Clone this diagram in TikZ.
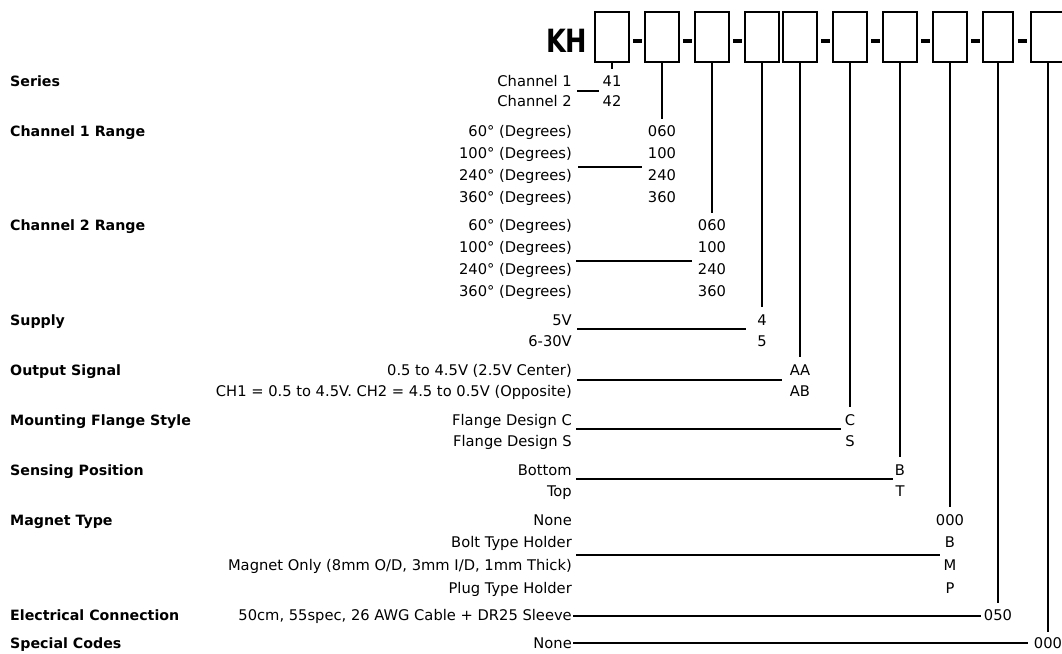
\documentclass[tikz,border=0pt]{standalone}
\usepackage{graphicx}
\usepackage{fontspec}
\setmainfont{DejaVu Sans}
\usetikzlibrary{calc}
\newcommand{\rowfont}{\fontsize{14.7}{17}\selectfont}
\tikzset{
    hdr/.style={font=\fontsize{14.2}{17}\selectfont\bfseries, anchor=base west, inner sep=0pt},
    desc/.style={font=\rowfont, anchor=base east, inner sep=0pt},
    code/.style={font=\rowfont, anchor=base, inner sep=0pt},
    slot/.style={draw, line width=2pt, minimum width=34pt, minimum height=50pt, inner sep=0pt},
    dashbar/.style={fill, minimum width=9pt, minimum height=4pt, inner sep=0pt, yshift=-3.5pt},
    lead/.style={line width=2pt},
}
\begin{document}
\begin{tikzpicture}[x=1pt, y=-1pt]
        \useasboundingbox (0,0) rectangle (1062,653);
        \clip (0,0) rectangle (1062,653);
        \node[anchor=base east, inner sep=0pt, font=\fontsize{32}{32}\selectfont\bfseries] (kh) at (587.5,52) {\scalebox{0.8}[1]{KH}};
        \node[slot] (b1) at (612,37) {};
        \node[slot] (b2) at (662,37) {};
        \node[slot] (b3) at (712,37) {};
        \node[slot] (b4) at (762,37) {};
        \node[slot] (b5) at (800,37) {};
        \node[slot] (b6) at (850,37) {};
        \node[slot] (b7) at (900,37) {};
        \node[slot] (b8) at (950,37) {};
        \node[slot, minimum width=30pt] (b9) at (998,37) {};
        \node[slot] (b10) at (1048,37) {};
        \node[dashbar] (m1) at ($(b1.east)!0.5!(b2.west)$) {};
        \node[dashbar] (m2) at ($(b2.east)!0.5!(b3.west)$) {};
        \node[dashbar] (m3) at ($(b3.east)!0.5!(b4.west)$) {};
        \node[dashbar] (m4) at ($(b5.east)!0.5!(b6.west)$) {};
        \node[dashbar] (m5) at ($(b6.east)!0.5!(b7.west)$) {};
        \node[dashbar] (m6) at ($(b7.east)!0.5!(b8.west)$) {};
        \node[dashbar] (m7) at ($(b8.east)!0.5!(b9.west)$) {};
        \node[dashbar] (m8) at ($(b9.east)!0.5!(b10.west)$) {};

        \node[hdr] (h-ser) at (10,86.7) {Series};
        \node[hdr] (h-ch1) at (10,136.7) {Channel 1 Range};
        \node[hdr] (h-ch2) at (10,230.7) {Channel 2 Range};
        \node[hdr] (h-sup) at (10,325) {Supply};
        \node[hdr] (h-out) at (10,375) {Output Signal};
        \node[hdr] (h-fla) at (10,425) {Mounting Flange Style};
        \node[hdr] (h-sen) at (10,475) {Sensing Position};
        \node[hdr] (h-mag) at (10,525) {Magnet Type};
        \node[hdr] (h-ele) at (10,620.7) {Electrical Connection};
        \node[hdr] (h-spc) at (10,648) {Special Codes};

        \node[desc] (d-ser1) at (572,86.7) {Channel 1};
        \node[desc] (d-ser2) at (572,106.7) {Channel 2};
        \node[desc] (d-ch1a) at (572,136.7) {60° (Degrees)};
        \node[desc] (d-ch1b) at (572,158.7) {100° (Degrees)};
        \node[desc] (d-ch1c) at (572,180.7) {240° (Degrees)};
        \node[desc] (d-ch1d) at (572,202.7) {360° (Degrees)};
        \node[desc] (d-ch2a) at (572,230.7) {60° (Degrees)};
        \node[desc] (d-ch2b) at (572,252.7) {100° (Degrees)};
        \node[desc] (d-ch2c) at (572,274.7) {240° (Degrees)};
        \node[desc] (d-ch2d) at (572,296.7) {360° (Degrees)};
        \node[desc] (d-sup1) at (572,325) {5V};
        \node[desc] (d-sup2) at (572,346.7) {6-30V};
        \node[desc] (d-out1) at (572,375) {0.5 to 4.5V (2.5V Center)};
        \node[desc] (d-out2) at (572,396.7) {CH1 = 0.5 to 4.5V. CH2 = 4.5 to 0.5V (Opposite)};
        \node[desc] (d-fla1) at (572,425) {Flange Design C};
        \node[desc] (d-fla2) at (572,446.7) {Flange Design S};
        \node[desc] (d-sen1) at (572,475) {Bottom};
        \node[desc] (d-sen2) at (572,496.7) {Top};
        \node[desc] (d-mag1) at (572,525) {None};
        \node[desc] (d-mag2) at (572,547.5) {Bolt Type Holder};
        \node[desc] (d-mag3) at (572,570.5) {Magnet Only (8mm O/D, 3mm I/D, 1mm Thick)};
        \node[desc] (d-mag4) at (572,593) {Plug Type Holder};
        \node[desc] (d-ele) at (572,620.7) {50cm, 55spec, 26 AWG Cable + DR25 Sleeve};
        \node[desc] (d-spc) at (572,648) {None};

        \node[code] (v-ser1) at (b1 |- 0,86.7) {41};
        \node[code] (v-ser2) at (b1 |- 0,106.7) {42};
        \node[code] (v-ch1a) at (b2 |- 0,136.7) {060};
        \node[code] (v-ch1b) at (b2 |- 0,158.7) {100};
        \node[code] (v-ch1c) at (b2 |- 0,180.7) {240};
        \node[code] (v-ch1d) at (b2 |- 0,202.7) {360};
        \node[code] (v-ch2a) at (b3 |- 0,230.7) {060};
        \node[code] (v-ch2b) at (b3 |- 0,252.7) {100};
        \node[code] (v-ch2c) at (b3 |- 0,274.7) {240};
        \node[code] (v-ch2d) at (b3 |- 0,296.7) {360};
        \node[code] (v-sup1) at (b4 |- 0,325) {4};
        \node[code] (v-sup2) at (b4 |- 0,346.7) {5};
        \node[code] (v-out1) at (b5 |- 0,375) {AA};
        \node[code] (v-out2) at (b5 |- 0,396.7) {AB};
        \node[code] (v-fla1) at (b6 |- 0,425) {C};
        \node[code] (v-fla2) at (b6 |- 0,446.7) {S};
        \node[code] (v-sen1) at (b7 |- 0,475) {B};
        \node[code] (v-sen2) at (b7 |- 0,496.7) {T};
        \node[code] (v-mag1) at (b8 |- 0,525) {000};
        \node[code] (v-mag2) at (b8 |- 0,547.5) {B};
        \node[code] (v-mag3) at (b8 |- 0,570.5) {M};
        \node[code] (v-mag4) at (b8 |- 0,593) {P};
        \node[code] (v-ele) at (b9 |- 0,620.7) {050};
        \node[code] (v-spc) at (b10 |- 0,648) {000};

        \draw[lead] (b1.south) -- ([yshift=7pt]v-ser1.north);
        \draw[lead] (b2.south) -- ([yshift=7pt]v-ch1a.north);
        \draw[lead] (b3.south) -- ([yshift=7pt]v-ch2a.north);
        \draw[lead] (b4.south) -- ([yshift=7pt]v-sup1.north);
        \draw[lead] (b5.south) -- ([yshift=7pt]v-out1.north);
        \draw[lead] (b6.south) -- ([yshift=7pt]v-fla1.north);
        \draw[lead] (b7.south) -- ([yshift=7pt]v-sen1.north);
        \draw[lead] (b8.south) -- ([yshift=7pt]v-mag1.north);
        \draw[lead] (b9.south) -- ([yshift=7pt]v-ele.north);
        \draw[lead] (b10.south) -- ([yshift=5pt]v-spc.north);

        \coordinate (l-ser) at (577,91);
        \coordinate (l-ch1) at (578,167);
        \coordinate (l-ch2) at (576,261);
        \coordinate (l-sup) at (577,329);
        \coordinate (l-out) at (577,380);
        \coordinate (l-fla) at (576,429);
        \coordinate (l-sen) at (576,479);
        \coordinate (l-mag) at (576,555);
        \coordinate (l-ele) at (573,616);
        \coordinate (l-spc) at (573,643);
        \draw[lead, shorten >=3.4pt] (l-ser) -- (l-ser -| v-ser1.west);
        \draw[lead, shorten >=6pt] (l-ch1) -- (l-ch1 -| v-ch1c.west);
        \draw[lead, shorten >=6pt] (l-ch2) -- (l-ch2 -| v-ch2c.west);
        \draw[lead, shorten >=10.8pt] (l-sup) -- (l-sup -| v-sup1.west);
        \draw[lead, shorten >=8pt] (l-out) -- (l-out -| v-out1.west);
        \draw[lead, shorten >=4pt] (l-fla) -- (l-fla -| v-fla1.west);
        \draw[lead, shorten >=1.4pt] (l-sen) -- (l-sen -| v-sen1.west);
        \draw[lead, shorten >=4.4pt] (l-mag) -- (l-mag -| v-mag2.west);
        \draw[lead, shorten >=2.3pt] (l-ele) -- (l-ele -| v-ele.west);
        \draw[lead, shorten >=6pt] (l-spc) -- (l-spc -| v-spc.west);
\end{tikzpicture}
\end{document}
